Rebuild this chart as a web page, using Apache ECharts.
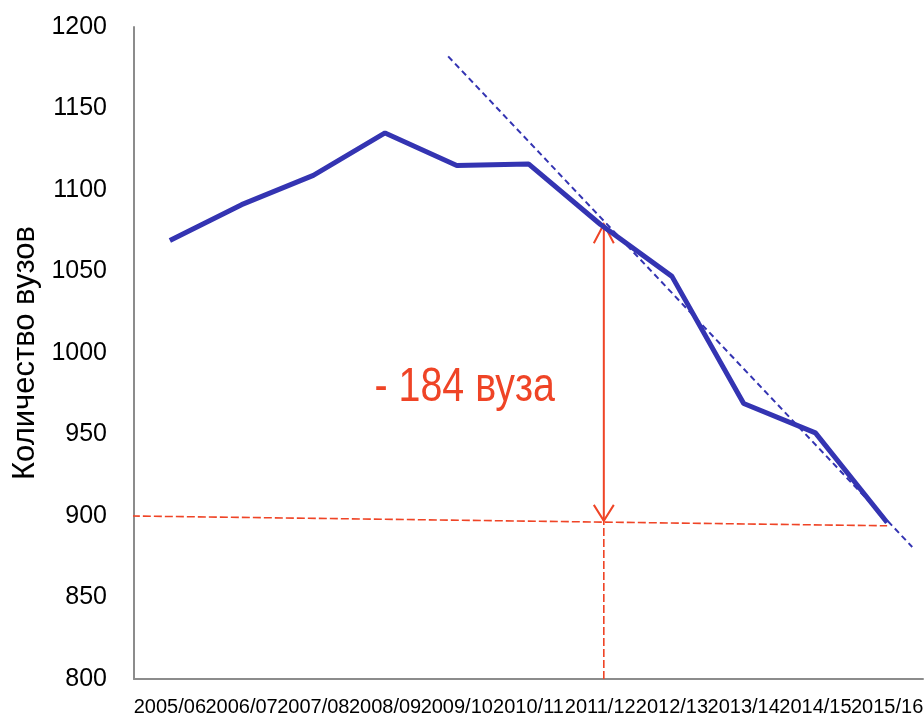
<!DOCTYPE html>
<html>
<head>
<meta charset="utf-8">
<script src="https://cdn.jsdelivr.net/npm/echarts@6/dist/echarts.min.js"></script>
<style>
  html, body { margin: 0; padding: 0; background: #fff; }
  #main { width: 924px; height: 717px; }
</style>
</head>
<body>
<div id="main"></div>
<script>
// учебные годы
const years = ['2005/06', '2006/07', '2007/08', '2008/09', '2009/10', '2010/11',
  '2011/12', '2012/13', '2013/14', '2014/15', '2015/16'];
// количество вузов
const universities = [1069, 1091, 1109, 1135, 1115, 1116, 1079, 1047, 969, 951, 896];
// пунктирная линия тренда (позиция по индексу года, значение)
const trendLine = [[3.88, 1182], [10.35, 881]];
// горизонтальная красная линия уровня 2015/16
const levelLine = [[-0.53, 900], [10, 894]];
// стрелка: индекс, низ, верх
const arrow = [[6.05, 897, 1079]];
const arrowBase = [[6.05, 800], [6.05, 897]];
const noteLabel = [[4.11, 978.5, '- 184 вуза']];

const blue = '#3434B2';
const red = '#EF4426';
const font = '"Liberation Sans", Arial, sans-serif';

const chart = echarts.init(document.getElementById('main'));

const option = {
  animation: false,
  grid: { left: 134, right: 1, top: 27, bottom: 38, containLabel: false, outerBoundsMode: 'none' },
  xAxis: [
    {
      type: 'category',
      data: years,
      boundaryGap: true,
      axisLine: { onZero: false, lineStyle: { color: '#8c8c8c', width: 2 } },
      axisTick: { show: false },
      axisLabel: { color: '#000', fontFamily: font, fontSize: 20, margin: 18, interval: 0 }
    },
    {
      // скрытая ось для подписей и линий
      type: 'value',
      min: -0.5,
      max: 10.5,
      show: false
    }
  ],
  yAxis: {
    type: 'value',
    min: 800,
    max: 1200,
    interval: 50,
    name: 'Количество вузов',
    nameLocation: 'middle',
    nameGap: 92,
    nameTextStyle: { color: '#000', fontFamily: font, fontSize: 31 },
    axisLine: { show: true, onZero: false, lineStyle: { color: '#8c8c8c', width: 2 } },
    axisTick: { show: false },
    splitLine: { show: false },
    axisLabel: {
      color: '#000', fontFamily: font, fontSize: 25, margin: 27,
      formatter: function (v) { return String(v); }
    }
  },
  series: [
    {
      name: 'levelLine',
      type: 'line',
      xAxisIndex: 1,
      data: levelLine,
      symbol: 'none',
      silent: true,
      lineStyle: { color: red, width: 1.6, type: [8, 3] }
    },
    {
      name: 'arrowBase',
      type: 'line',
      xAxisIndex: 1,
      data: arrowBase,
      symbol: 'none',
      silent: true,
      lineStyle: { color: red, width: 1.6, type: [8, 3] }
    },
    {
      name: 'arrow',
      type: 'custom',
      xAxisIndex: 1,
      data: arrow,
      silent: true,
      renderItem: function (params, api) {
        const x = api.value(0);
        const b = api.coord([x, api.value(1)]);
        const t = api.coord([x, api.value(2)]);
        const st = { stroke: red, lineWidth: 2, fill: null };
        return {
          type: 'group',
          children: [
            { type: 'line', shape: { x1: b[0], y1: b[1], x2: t[0], y2: t[1] }, style: st },
            { type: 'polyline', shape: { points: [[t[0] - 10, t[1] + 19], t, [t[0] + 10, t[1] + 19]] }, style: st },
            { type: 'polyline', shape: { points: [[b[0] - 10, b[1] - 16], b, [b[0] + 10, b[1] - 16]] }, style: st }
          ]
        };
      }
    },
    {
      name: 'Количество вузов',
      type: 'line',
      data: universities,
      symbol: 'none',
      lineStyle: { color: blue, width: 5 },
      z: 3
    },
    {
      name: 'trend',
      type: 'line',
      xAxisIndex: 1,
      data: trendLine,
      symbol: 'none',
      silent: true,
      lineStyle: { color: blue, width: 2, type: [6, 4] },
      z: 4
    },
    {
      name: 'note',
      type: 'custom',
      xAxisIndex: 1,
      data: noteLabel,
      silent: true,
      renderItem: function (params, api) {
        const p = api.coord([api.value(0), api.value(1)]);
        // узкий шрифт: сжимаем текст по горизонтали
        return {
          type: 'text',
          x: p[0],
          y: p[1],
          scaleX: 0.82,
          style: {
            text: noteLabel[params.dataIndex][2],
            fill: red,
            font: '48px ' + font,
            align: 'center',
            verticalAlign: 'middle'
          }
        };
      }
    }
  ]
};

chart.setOption(option);
</script>
</body>
</html>
